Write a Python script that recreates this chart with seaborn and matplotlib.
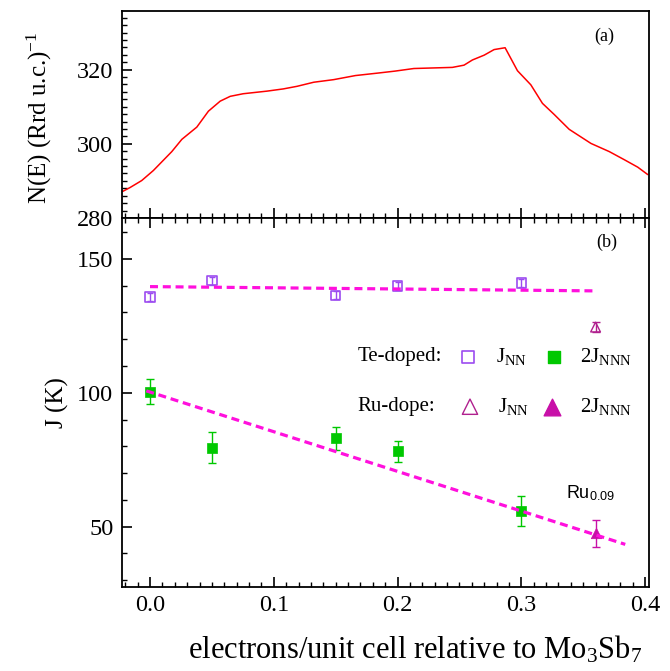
import matplotlib
matplotlib.use("Agg")
import matplotlib.pyplot as plt
from matplotlib.ticker import MultipleLocator, FormatStrFormatter
import seaborn as sns

# panel (a): N(E) curve
ne_x = [-0.0219, -0.0162, -0.0067, 0.0027, 0.0176, 0.0257, 0.0378, 0.0472, 0.0567, 0.0648,
        0.0753, 0.0945, 0.1077, 0.1188, 0.1323, 0.1484, 0.166, 0.185, 0.198, 0.2132,
        0.2443, 0.2537, 0.2605, 0.270, 0.278, 0.2869, 0.2969, 0.3077, 0.3171, 0.3266,
        0.3387, 0.3563, 0.3711, 0.3833, 0.3941, 0.4022]
ne_y = [287.2, 288.2, 290.1, 292.8, 297.9, 301.2, 304.5, 308.8, 311.5, 312.8,
        313.5, 314.2, 314.8, 315.5, 316.6, 317.3, 318.4, 319.1, 319.6, 320.3,
        320.6, 321.2, 322.6, 323.9, 325.4, 325.9, 319.7, 315.9, 310.9, 307.9,
        303.9, 300.1, 297.9, 295.7, 293.7, 291.7]

# panel (b): exchange constants
te_x = [0.0, 0.05, 0.15, 0.2, 0.3]
te_jnn = [135.8, 141.8, 136.3, 139.9, 140.9]
te_jnn_err = [1.5, 1.5, 1.5, 1.5, 1.5]
te_2jnnn = [100.4, 79.4, 83.0, 78.2, 55.9]
te_2jnnn_err = [4.6, 5.8, 4.3, 3.9, 5.6]

ru_x = [0.36]
ru_jnn = [124.5]
ru_jnn_err = [2.0]
ru_2jnnn = [47.6]
ru_2jnnn_err = [5.0]

fit_nn_x = [0.0, 0.36]
fit_nn_y = [139.6, 138.0]
fit_nnn_x = [-0.003, 0.384]
fit_nnn_y = [100.7, 43.4]

C_RED = "#ff0000"
C_TE_NN = "#9c4cf0"
C_TE_NNN = "#00c800"
C_RU_NN = "#b0208e"
C_RU_NNN = "#c810a8"
C_FIT = "#ff10dd"

sns.set_theme(style="ticks")
plt.rcParams["font.family"] = ["Liberation Serif", "DejaVu Serif"]
plt.rcParams["mathtext.fontset"] = "custom"
plt.rcParams["mathtext.rm"] = "Liberation Serif"
plt.rcParams["mathtext.it"] = "Liberation Serif:italic"
plt.rcParams["mathtext.sf"] = "Liberation Sans"
plt.rcParams["axes.edgecolor"] = "black"
plt.rcParams["xtick.color"] = "black"
plt.rcParams["ytick.color"] = "black"
plt.rcParams["text.color"] = "black"
plt.rcParams["axes.labelcolor"] = "black"

fig = plt.figure(figsize=(6.7, 6.71), dpi=100)
left, width = 0.1816, 0.7871
ax1 = fig.add_axes([left, 0.6751, width, 0.3085])
ax2 = fig.add_axes([left, 0.1252, width, 0.5499], sharex=ax1)

# ---- panel (a)
sns.lineplot(x=ne_x, y=ne_y, ax=ax1, color=C_RED, lw=1.1, sort=False, estimator=None)
ax1.set_ylim(280, 335.8)
ax1.set_xlim(-0.0229, 0.4032)
ax1.yaxis.set_major_locator(MultipleLocator(20))
ax1.yaxis.set_minor_locator(MultipleLocator(2))
ax1.set_ylabel("N(E) (Rrd u.c.)$^{-1}$", fontsize=18)
ax1.yaxis.set_label_coords(-0.128, 0.483)
ax1.text(0.915, 0.88, "(a)", transform=ax1.transAxes, fontsize=13, ha="center", va="center")
ax1.tick_params(axis="x", which="both", direction="in", bottom=True, top=False, labelbottom=False)

# ---- panel (b)
ax2.errorbar(te_x, te_jnn, yerr=te_jnn_err, fmt="none", ecolor=C_TE_NN, elinewidth=1.0, capsize=2.5, capthick=1.0)
ax2.errorbar(te_x, te_2jnnn, yerr=te_2jnnn_err, fmt="none", ecolor=C_TE_NNN, elinewidth=1.0, capsize=3.2, capthick=1.0)
ax2.errorbar(ru_x, ru_jnn, yerr=ru_jnn_err, fmt="none", ecolor=C_RU_NN, elinewidth=1.0, capsize=3.2, capthick=1.0)
ax2.errorbar(ru_x, ru_2jnnn, yerr=ru_2jnnn_err, fmt="none", ecolor=C_RU_NNN, elinewidth=1.0, capsize=3.2, capthick=1.0)

sns.scatterplot(x=te_x, y=te_jnn, ax=ax2, marker="s", s=6.8 ** 2,
                facecolor="none", edgecolor=C_TE_NN, linewidth=1.2, zorder=3)
sns.scatterplot(x=te_x, y=te_2jnnn, ax=ax2, marker="s", s=6.8 ** 2,
                color=C_TE_NNN, edgecolor=C_TE_NNN, linewidth=0.5, zorder=3)
sns.scatterplot(x=ru_x, y=ru_jnn, ax=ax2, marker="^", s=7 ** 2,
                facecolor="none", edgecolor=C_RU_NN, linewidth=1.0, zorder=3)
sns.scatterplot(x=ru_x, y=ru_2jnnn, ax=ax2, marker="^", s=7.5 ** 2,
                color=C_RU_NNN, edgecolor=C_RU_NNN, linewidth=0.5, zorder=3)

sns.lineplot(x=fit_nn_x, y=fit_nn_y, ax=ax2, color=C_FIT, lw=2.3,
             linestyle=(0, (2.5, 1.5)), sort=False, estimator=None, zorder=4)
sns.lineplot(x=fit_nnn_x, y=fit_nnn_y, ax=ax2, color=C_FIT, lw=2.3,
             linestyle=(0, (2.5, 1.5)), sort=False, estimator=None, zorder=4)

ax2.set_ylim(27.5, 165.2)
ax2.yaxis.set_major_locator(MultipleLocator(50))
ax2.yaxis.set_minor_locator(MultipleLocator(10))
ax2.xaxis.set_major_locator(MultipleLocator(0.1))
ax2.xaxis.set_minor_locator(MultipleLocator(0.01))
ax2.xaxis.set_major_formatter(FormatStrFormatter("%.1f"))
ax2.set_ylabel("J (K)", fontsize=18)
ax2.yaxis.set_label_coords(-0.10, 0.5)
ax2.set_xlabel("electrons/unit cell relative to Mo$_3$Sb$_7$", fontsize=22)
ax2.xaxis.set_label_coords(0.556, -0.128)
ax2.tick_params(axis="x", which="both", direction="in", bottom=True, top=True)
ax2.text(0.92, 0.935, "(b)", transform=ax2.transAxes, fontsize=13, ha="center", va="center")
ax2.text(0.336, 62.5, r"Ru$_{\mathsf{0.09}}$", fontsize=13, family="Liberation Sans", va="center")

# hand-made legend
lg = ax2.transAxes
row1, row2 = 0.624, 0.4886
ax2.text(0.447, row1, "Te-doped:", transform=lg, fontsize=15, va="center")
ax2.scatter([0.657], [row1], transform=lg, marker="s", s=8.5 ** 2, facecolor="none",
            edgecolor=C_TE_NN, linewidth=1.2, clip_on=False)
ax2.text(0.709, row1, r"J$_{\rm NN}$", transform=lg, fontsize=15, va="center")
ax2.scatter([0.820], [row1], transform=lg, marker="s", s=8.5 ** 2, color=C_TE_NNN, clip_on=False)
ax2.text(0.870, row1, r"2J$_{\rm NNN}$", transform=lg, fontsize=15, va="center")

ax2.text(0.447, row2, "Ru-dope:", transform=lg, fontsize=15, va="center")
ax2.scatter([0.6605], [row2], transform=lg, marker="^", s=11 ** 2, facecolor="none",
            edgecolor=C_RU_NN, linewidth=1.0, clip_on=False)
ax2.text(0.714, row2, r"J$_{\rm NN}$", transform=lg, fontsize=15, va="center")
ax2.scatter([0.8155], [row2], transform=lg, marker="^", s=12 ** 2, color=C_RU_NNN, clip_on=False)
ax2.text(0.869, row2, r"2J$_{\rm NNN}$", transform=lg, fontsize=15, va="center")

for ax in (ax1, ax2):
    for sp in ax.spines.values():
        sp.set_linewidth(1.3)
        sp.set_visible(True)
    ax.tick_params(axis="y", which="both", direction="in", left=True, right=False)
    ax.tick_params(which="major", length=7, width=1.2, labelsize=17.5, pad=6)
    ax.tick_params(which="minor", length=3.6, width=1.0)

fig.savefig("out.png", dpi=100)
